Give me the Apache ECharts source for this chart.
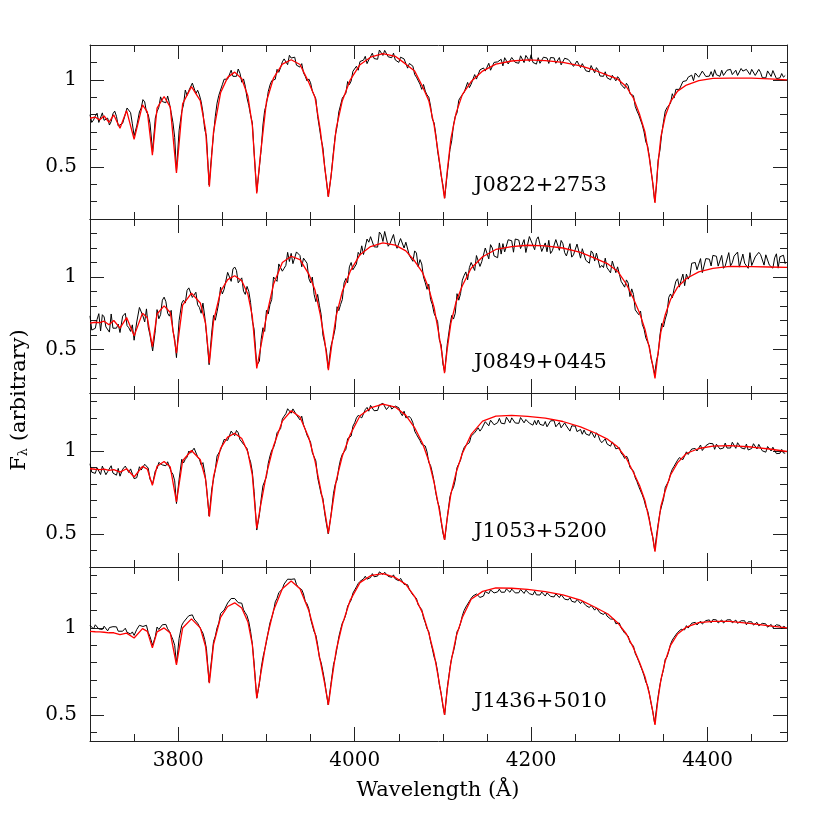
<!DOCTYPE html>
<html><head><meta charset="utf-8">
<script src="https://cdn.jsdelivr.net/npm/echarts@6/dist/echarts.min.js"></script>
<style>html,body{margin:0;padding:0;background:#fff}#c{width:830px;height:830px}</style>
</head><body><div id="c"></div>
<script>
// ---------------- data ----------------
const xMin = 3700, xMax = 4490;
const xMajorTicks = [3800, 4000, 4200, 4400];
const xMinorTicks = [3750, 3800, 3850, 3900, 3950, 4000, 4050, 4100, 4150, 4200, 4250, 4300, 4350, 4400, 4450];
const yMajorTicks = [0.5, 1];
const panelNames = ['J0822+2753', 'J0849+0445', 'J1053+5200', 'J1436+5010'];
const yMins = [0.2, 0.2, 0.3, 0.35];
const yMaxs = [1.2, 1.4, 1.35, 1.35];
const yMinorTicks = [
  [0.3, 0.4, 0.5, 0.6, 0.7, 0.8, 0.9, 1.0, 1.1],
  [0.3, 0.4, 0.5, 0.6, 0.7, 0.8, 0.9, 1.0, 1.1, 1.2, 1.3],
  [0.4, 0.5, 0.6, 0.7, 0.8, 0.9, 1.0, 1.1, 1.2, 1.3],
  [0.4, 0.5, 0.6, 0.7, 0.8, 0.9, 1.0, 1.1, 1.2, 1.3]
];
const xTitle = 'Wavelength (Å)';

// model (red) wavelengths and fluxes
const modelWave = [3700,3706,3711,3716,3721.5,3727,3734,3741.5,3750,3759.5,
3765,3770.7,3776,3784,3791,3798,3805,3815,3825,3831,
3835.3,3840,3848,3856,3864,3872,3879,3884,3889,3893,
3900,3908,3918,3928,3938,3948,3955,3961,3966,3970.2,
3974,3979,3986,3995,4006,4018,4032,4046,4058,4068,
4077,4084,4090,4095,4099,4101.8,4105,4109,4115,4122,
4132,4145,4160,4178,4196,4216,4236,4256,4272,4287,
4298,4308,4316,4323,4329,4334,4337.5,4340.4,4343.5,4347,
4352,4358,4366,4376,4390,4406,4425,4450,4470,4490];
const model1 = [.779,.785,.770,.792,.755,.798,.722,.823,.658,.856,
.816,.567,.837,.904,.843,.465,.862,.961,.880,.713,
.385,.701,.925,1.014,1.044,1.006,.905,.737,.347,.56,
.875,1.01,1.09,1.115,1.088,.985,.90,.712,.50,.327,
.48,.72,.88,1.0,1.087,1.13,1.15,1.135,1.09,1.05,
.96,.88,.74,.57,.42,.318,.48,.66,.81,.915,
.99,1.05,1.09,1.108,1.115,1.11,1.10,1.08,1.055,1.025,
1.005,.96,.894,.80,.70,.55,.42,.292,.50,.67,
.79,.875,.935,.97,.995,1.008,1.01,1.01,1.005,1.0];
const model2 = [.682,.688,.686,.695,.670,.700,.647,.720,.594,.751,
.719,.520,.745,.801,.755,.474,.806,.889,.821,.681,
.405,.695,.900,.982,1.009,.974,.881,.728,.370,.500,
.730,.950,1.100,1.143,1.120,1.020,.910,.740,.560,.358,
.530,.730,.900,1.040,1.154,1.210,1.235,1.220,1.180,1.110,
1.030,.920,.790,.620,.470,.336,.510,.680,.830,.940,
1.060,1.140,1.190,1.210,1.219,1.215,1.200,1.170,1.130,1.090,
1.040,.950,.850,.750,.640,.510,.400,.301,.460,.620,
.740,.845,.930,.990,1.035,1.060,1.073,1.072,1.069,1.066];
const model3 = [.893,.890,.888,.890,.883,.888,.873,.893,.843,.907,
.891,.793,.908,.937,.903,.693,.941,1.003,.947,.831,
.603,.845,1.016,1.084,1.107,1.075,.992,.854,.533,.660,
.860,1.030,1.180,1.243,1.205,1.080,.940,.780,.640,.503,
.640,.820,.970,1.100,1.213,1.260,1.283,1.265,1.215,1.140,
1.045,.940,.810,.670,.550,.463,.600,.740,.870,.985,
1.100,1.180,1.210,1.215,1.209,1.198,1.178,1.145,1.110,1.070,
1.025,.955,.870,.790,.700,.580,.490,.393,.530,.665,
.760,.855,.930,.985,1.015,1.030,1.033,1.024,1.012,.997];
const model4 = [.980,.978,.977,.975,.972,.972,.961,.970,.942,.996,
.980,.885,.977,1.000,.970,.788,.999,1.052,1.000,.893,
.683,.904,1.061,1.123,1.144,1.114,1.034,.903,.596,.720,
.930,1.100,1.225,1.269,1.225,1.100,.970,.810,.680,.557,
.700,.870,1.020,1.160,1.260,1.300,1.312,1.290,1.250,1.180,
1.085,.970,.850,.710,.590,.500,.650,.800,.950,1.060,
1.165,1.210,1.230,1.228,1.221,1.208,1.190,1.160,1.120,1.080,
1.030,.965,.885,.800,.720,.620,.530,.442,.580,.700,
.810,.900,.965,1.005,1.030,1.038,1.038,1.024,1.012,1.000];

// observed (black) spectrum, sampled in two interleaved sets of wavelengths
const obsWave = [3700,3704,3708,3712,3716,3720,3724,3728,3732,3734,
3740,3744,3748,3750,3756,3760,3764,3768,3771,3776,
3780,3784,3788,3792,3796,3798,3804,3808,3812,3816,
3820,3824,3828,3832,3835,3840,3844,3848,3852,3856,
3860,3864,3868,3872,3876,3880,3884,3889,3892,3896,
3900,3904,3908,3912,3916,3920,3924,3928,3932,3936,
3940,3944,3948,3952,3956,3960,3964,3968,3970,3976,
3980,3984,3988,3992,3996,4000,4004,4008,4012,4016,
4020,4024,4028,4032,4036,4040,4044,4048,4052,4056,
4060,4064,4068,4072,4076,4080,4084,4088,4092,4096,
4100,4102,4108,4112,4116,4120,4124,4128,4132,4136,
4140,4144,4148,4152,4156,4160,4164,4168,4172,4176,
4180,4184,4188,4192,4196,4200,4204,4208,4212,4216,
4220,4224,4228,4232,4236,4240,4244,4248,4252,4256,
4260,4264,4268,4272,4276,4280,4284,4288,4292,4296,
4300,4304,4308,4312,4316,4320,4324,4328,4332,4336,
4340,4344,4348,4352,4356,4360,4364,4368,4372,4376,
4380,4384,4388,4392,4396,4400,4404,4408,4412,4416,
4420,4424,4428,4432,4436,4440,4444,4448,4452,4456,
4460,4464,4468,4472,4476,4480,4484,4488];
const obs1 = [.799,.769,.808,.761,.767,.780,.760,.820,.735,.727,
.801,.840,.747,.678,.815,.886,.815,.750,.587,.817,
.902,.884,.907,.811,.669,.475,.817,.941,.938,.981,
.921,.913,.813,.676,.395,.686,.866,.905,1.003,1.004,
1.055,1.029,1.062,.986,.963,.852,.752,.357,.50,.74,
.86,.97,.99,1.06,1.07,1.12,1.087,1.125,1.13,1.082,
1.093,1.02,1.005,.935,.89,.725,.61,.42,.33,.59,
.73,.855,.90,.99,.993,1.06,1.055,1.11,1.135,1.115,
1.153,1.125,1.171,1.14,1.178,1.125,1.153,1.105,1.13,1.12,
1.067,1.086,1.03,1.025,.945,.935,.90,.775,.685,.525,
.395,.32,.60,.74,.81,.90,.927,.985,.975,1.03,
1.013,1.066,1.05,1.095,1.06,1.105,1.105,1.08,1.124,1.097,
1.129,1.101,1.138,1.099,1.125,1.144,1.093,1.127,1.106,1.13,
1.094,1.127,1.095,1.128,1.08,1.113,1.105,1.077,1.108,1.07,
1.09,1.059,1.082,1.04,1.055,1.018,1.046,1.013,1.026,.994,
1.006,.965,.98,.92,.909,.82,.795,.70,.62,.475,
.30,.54,.69,.82,.85,.92,.945,.945,.99,.995,
1.008,.995,1.032,1.018,1.043,1.02,1.047,1.058,1.029,1.055,
1.025,1.06,1.03,1.055,1.02,1.05,1.06,1.03,1.055,1.019,
1.043,1.017,1.051,1.019,1.043,1.007,1.036,1.025];
const obs2 = [.732,.646,.707,.628,.725,.657,.745,.64,.675,.617,
.75,.65,.67,.564,.79,.731,.78,.60,.49,.775,
.74,.861,.75,.77,.57,.444,.82,.82,.925,.859,
.895,.79,.82,.61,.395,.735,.76,.93,.915,1.032,
.97,1.069,.96,.994,.88,.90,.698,.39,.42,.65,
.77,.81,1.0,.97,1.10,1.06,1.17,1.163,1.10,1.175,
1.07,1.12,.99,1.0,.83,.805,.60,.49,.37,.59,
.795,.81,.96,.96,1.10,1.06,1.17,1.215,1.155,1.24,
1.275,1.212,1.31,1.245,1.323,1.23,1.293,1.198,1.265,1.2,
1.23,1.145,1.18,1.07,1.09,.96,.95,.81,.75,.565,
.40,.346,.67,.71,.885,.885,1.01,.98,1.10,1.045,
1.15,1.105,1.20,1.125,1.20,1.14,1.235,1.23,1.175,1.258,
1.171,1.263,1.196,1.258,1.169,1.249,1.188,1.277,1.176,1.235,
1.253,1.181,1.258,1.184,1.23,1.145,1.23,1.153,1.227,1.13,
1.19,1.11,1.18,1.11,1.17,1.08,1.13,1.047,1.11,1.03,
1.07,.96,.98,.865,.88,.765,.765,.64,.58,.435,
.33,.47,.68,.71,.86,.855,.97,.93,1.02,1.02,
1.01,1.09,1.05,1.127,1.043,1.12,1.076,1.161,1.075,1.149,
1.076,1.168,1.098,1.148,1.068,1.158,1.088,1.168,1.076,1.136,
1.155,1.082,1.164,1.073,1.132,1.061,1.15,1.09];
const obs3 = [.923,.871,.899,.858,.91,.875,.911,.868,.895,.848,
.909,.87,.885,.833,.905,.881,.91,.83,.803,.893,
.94,.917,.935,.875,.82,.683,.95,.95,1.0,.993,
1.005,.95,.93,.785,.608,.83,.97,1.006,1.07,1.064,
1.12,1.092,1.11,1.055,1.05,.965,.874,.523,.615,.79,
.845,.97,1.02,1.11,1.135,1.21,1.255,1.228,1.255,1.21,
1.21,1.13,1.09,.99,.94,.79,.715,.56,.50,.745,
.825,.95,.99,1.075,1.09,1.17,1.215,1.20,1.25,1.24,
1.275,1.247,1.278,1.288,1.25,1.276,1.245,1.272,1.23,1.24,
1.195,1.195,1.12,1.11,1.04,1.03,.93,.87,.745,.66,
.505,.463,.725,.78,.90,.945,1.02,1.04,1.09,1.11,
1.14,1.135,1.177,1.152,1.185,1.16,1.197,1.173,1.204,1.17,
1.195,1.168,1.202,1.17,1.194,1.157,1.184,1.187,1.155,1.178,
1.149,1.175,1.146,1.172,1.133,1.151,1.12,1.148,1.117,1.13,
1.127,1.093,1.119,1.08,1.095,1.05,1.073,1.047,1.055,1.013,
1.02,.975,.97,.90,.88,.815,.79,.705,.64,.52,
.40,.56,.67,.78,.82,.89,.90,.96,.948,.995,
.978,1.01,1.0,1.036,1.005,1.034,1.043,1.01,1.041,1.022,
1.048,1.023,1.053,1.016,1.04,1.008,1.042,1.015,1.044,1.012,
1.028,1.0,1.027,1.0,1.026,.988,1.01,.987];
const obs4 = [1.015,.994,1.018,.997,1.01,.983,1.002,1.009,.981,.981,
.998,.973,.977,.957,1.015,1.008,1.015,.95,.90,1.005,
.997,1.025,.995,.983,.90,.793,1.015,1.032,1.07,1.075,
1.04,1.028,.97,.88,.688,.922,1.0,1.083,1.102,1.143,
1.169,1.169,1.145,1.142,1.087,1.035,.908,.596,.68,.83,
.92,1.03,1.095,1.17,1.202,1.252,1.28,1.279,1.282,1.233,
1.22,1.152,1.11,1.015,.958,.83,.75,.622,.557,.79,
.885,.99,1.047,1.125,1.16,1.218,1.255,1.258,1.297,1.29,
1.312,1.296,1.322,1.307,1.316,1.291,1.305,1.279,1.285,1.25,
1.248,1.205,1.19,1.132,1.105,1.03,.978,.88,.805,.672,
.55,.50,.77,.865,.978,1.027,1.10,1.12,1.17,1.172,
1.186,1.182,1.209,1.197,1.223,1.205,1.223,1.205,1.224,1.205,
1.222,1.203,1.221,1.198,1.214,1.191,1.211,1.19,1.206,1.183,
1.201,1.179,1.196,1.174,1.19,1.162,1.174,1.148,1.164,1.14,
1.152,1.124,1.13,1.102,1.112,1.084,1.09,1.059,1.06,1.024,
1.028,.985,.973,.917,.895,.832,.798,.725,.668,.565,
.45,.608,.72,.82,.867,.93,.944,.985,.983,1.013,
1.005,1.03,1.017,1.039,1.021,1.045,1.029,1.05,1.028,1.046,
1.028,1.046,1.029,1.045,1.021,1.038,1.018,1.036,1.016,1.032,
1.008,1.023,1.004,1.02,.998,1.013,.995,1.005];

const obsWaveB = [3702,3706,3710,3714,3718,3722,3726,3730,3737,
3742,3746,3753,3758,3762,3766,3774,3778,
3782,3786,3790,3794,3801,3806,3810,3814,3818,
3822,3826,3830,3838,3842,3846,3850,3854,3858,
3862,3866,3870,3874,3878,3882,3886,3894,3898,
3902,3906,3910,3914,3918,3922,3926,3930,3934,3938,
3942,3946,3950,3954,3958,3962,3966,3973,3978,
3982,3986,3990,3994,3998,4002,4006,4010,4014,4018,
4022,4026,4030,4034,4038,4042,4046,4050,4054,4058,
4062,4066,4070,4074,4078,4082,4086,4090,4094,4098,
4105,4110,4114,4118,4122,4126,4130,4134,4138,
4142,4146,4150,4154,4158,4162,4166,4170,4174,4178,
4182,4186,4190,4194,4198,4202,4206,4210,4214,4218,
4222,4226,4230,4234,4238,4242,4246,4250,4254,4258,
4262,4266,4270,4274,4278,4282,4286,4290,4294,4298,
4302,4306,4310,4314,4318,4322,4326,4330,4334,4338,
4342,4346,4350,4354,4358,4362,4366,4370,4374,4378,
4382,4386,4390,4394,4398,4402,4406,4410,4414,4418,
4422,4426,4430,4434,4438,4442,4446,4450,4454,4458,
4462,4466,4470,4474,4478,4482,4486];
const obsB1 = [.755,.791,.755,.81,.77,.74,.805,.79,.75,
.838,.811,.735,.838,.873,.80,.78,.842,
.875,.868,.865,.755,.71,.857,.91,.942,.971,
.94,.875,.715,.58,.789,.911,.972,1.006,1.0,
1.02,1.02,1.037,1.005,.895,.797,.585,.60,.825,
.932,.995,1.003,1.043,1.103,1.121,1.141,1.123,1.084,1.073,
1.04,.993,.983,.94,.79,.658,.50,.435,.68,
.815,.895,.923,.972,1.049,1.078,1.105,1.113,1.093,1.114,
1.122,1.118,1.168,1.169,1.132,1.127,1.114,1.10,1.12,1.11,
1.094,1.078,1.015,.975,.973,.913,.85,.753,.59,.45,
.465,.65,.79,.883,.89,.933,.955,.98,1.004,
1.057,1.068,1.04,1.055,1.10,1.103,1.118,1.127,1.091,1.128,
1.10,1.095,1.135,1.14,1.105,1.10,1.09,1.095,1.13,1.125,
1.128,1.126,1.089,1.086,1.124,1.117,1.109,1.07,1.104,1.093,
1.052,1.046,1.073,1.07,1.022,1.02,1.012,1.0,1.028,1.018,
.973,.95,.965,.927,.847,.798,.74,.643,.558,.40,
.39,.595,.758,.84,.865,.895,.935,.945,.995,1.015,
1.027,1.039,1.015,1.05,1.019,1.021,1.018,1.029,1.02,1.025,
1.055,1.06,1.02,1.025,1.065,1.05,1.05,1.06,1.025,1.06,
1.012,1.011,1.045,1.053,1.007,1.011,1.015];
const obsB2 = [.634,.646,.747,.74,.656,.62,.647,.647,.73,
.665,.625,.69,.80,.69,.655,.63,.712,
.84,.83,.73,.63,.70,.84,.908,.922,.847,
.808,.75,.73,.62,.702,.825,.883,.904,1.021,
1.055,1.045,.957,.902,.935,.824,.64,.57,.625,
.745,.845,1.01,1.09,1.04,1.08,1.107,1.092,1.173,1.148,
1.13,1.095,.96,.88,.88,.74,.595,.52,.65,
.768,.845,.99,1.07,1.05,1.09,1.15,1.155,1.262,1.278,
1.208,1.206,1.293,1.314,1.212,1.217,1.23,1.192,1.268,1.24,
1.148,1.108,1.165,1.12,1.0,.915,.845,.75,.693,.533,
.54,.735,.75,.84,.978,1.035,1.065,1.113,1.148,
1.073,1.103,1.188,1.223,1.145,1.133,1.158,1.173,1.257,1.25,
1.262,1.255,1.187,1.169,1.279,1.249,1.258,1.267,1.186,1.174,
1.162,1.17,1.246,1.252,1.168,1.143,1.137,1.14,1.214,1.195,
1.115,1.095,1.165,1.165,1.065,1.065,1.064,1.029,1.10,1.07,
.97,.93,.958,.918,.773,.74,.673,.58,.523,.388,
.42,.60,.655,.75,.883,.918,.988,.978,.94,.985,
1.095,1.10,1.044,1.03,1.127,1.123,1.149,1.143,1.077,1.06,
1.067,1.077,1.144,1.172,1.08,1.095,1.06,1.079,1.139,1.17,
1.164,1.153,1.082,1.061,1.16,1.14,1.15];
const obsB3 = [.872,.865,.903,.909,.857,.87,.867,.854,.89,
.902,.892,.839,.885,.92,.897,.88,.931,
.916,.911,.928,.86,.83,.928,.963,.987,1.017,
.965,.915,.87,.77,.888,.968,1.016,1.06,1.072,
1.119,1.124,1.068,1.04,1.015,.935,.755,.71,.795,
.925,1.005,1.053,1.105,1.193,1.225,1.257,1.254,1.218,1.188,
1.158,1.095,1.053,.978,.84,.74,.625,.607,.80,
.90,.98,1.01,1.075,1.15,1.20,1.22,1.21,1.263,1.275,
1.243,1.245,1.28,1.287,1.248,1.253,1.271,1.261,1.213,1.20,
1.208,1.17,1.10,1.063,1.043,.995,.913,.815,.693,.573,
.60,.76,.825,.895,.99,1.035,1.05,1.095,1.118,
1.12,1.131,1.172,1.186,1.158,1.171,1.168,1.164,1.195,1.20,
1.169,1.167,1.201,1.19,1.168,1.156,1.158,1.161,1.154,1.146,
1.182,1.183,1.149,1.14,1.17,1.153,1.152,1.15,1.114,1.101,
1.103,1.094,1.11,1.11,1.065,1.059,1.043,1.029,1.037,1.022,
.988,.955,.95,.903,.838,.785,.735,.663,.59,.475,
.485,.628,.708,.78,.863,.908,.945,.962,.959,.979,
1.012,1.015,.993,1.003,1.032,1.046,1.044,1.041,1.012,1.018,
1.018,1.018,1.052,1.05,1.019,1.012,1.006,1.015,1.038,1.04,
1.001,.993,1.021,1.023,.984,.986,.988];
const obsB4 = [1.017,1.018,.994,.991,1.014,1.002,1.007,1.006,.981,
.975,.965,.991,1.02,.998,.974,.95,.991,
1.018,1.02,.98,.932,.94,1.033,1.058,1.074,1.051,
1.027,.988,.933,.828,.952,1.028,1.082,1.112,1.145,
1.165,1.17,1.135,1.104,1.07,.98,.798,.768,.875,
.977,1.06,1.15,1.203,1.223,1.25,1.28,1.286,1.25,1.226,
1.195,1.138,1.053,.978,.903,.80,.693,.675,.828,
.948,1.028,1.077,1.133,1.2,1.236,1.267,1.282,1.28,1.289,
1.294,1.298,1.319,1.32,1.296,1.291,1.281,1.271,1.276,1.258,
1.22,1.188,1.17,1.126,1.058,.995,.922,.833,.748,.623,
.658,.83,.912,.995,1.07,1.12,1.153,1.183,1.195,
1.175,1.183,1.21,1.218,1.201,1.207,1.205,1.205,1.222,1.223,
1.201,1.202,1.22,1.217,1.197,1.19,1.19,1.189,1.205,1.202,
1.181,1.178,1.192,1.192,1.165,1.161,1.153,1.147,1.159,1.153,
1.129,1.117,1.127,1.115,1.087,1.077,1.068,1.051,1.05,1.032,
1.0,.97,.953,.913,.853,.807,.755,.688,.623,.515,
.533,.673,.76,.833,.906,.946,.974,.992,.989,.999,
1.027,1.032,1.017,1.022,1.042,1.046,1.048,1.046,1.028,1.028,
1.046,1.047,1.024,1.026,1.041,1.041,1.035,1.035,1.013,1.012,
1.026,1.023,1.003,1.001,1.018,1.014,1.009];

const models = [model1, model2, model3, model4];
const observedA = [obs1, obs2, obs3, obs4];
const observedB = [obsB1, obsB2, obsB3, obsB4];

// ---------------- layout / style ----------------
const FONT = 'DejaVu Serif';
const AX = '#222';
const tops = [45, 219, 393, 567];
const PH = 174;

function obsSeriesData(g) {
  const pts = obsWave.map((w, i) => [w, observedA[g][i]]);
  const n = Math.min(obsWaveB.length, observedB[g].length);
  for (let i = 0; i < n; i++) pts.push([obsWaveB[i], observedB[g][i]]);
  pts.sort((a, b) => a[0] - b[0]);
  return pts;
}

const grids = [], xAxes = [], yAxes = [], series = [];
for (let g = 0; g < 4; g++) {
  grids.push({ left: 90, right: 43, top: tops[g], height: PH });
  const last = g === 3;
  const tickStyle = { color: AX, width: 1 };
  const xb = { type: 'value', gridIndex: g, min: xMin, max: xMax, splitLine: { show: false },
    axisLine: { show: false, onZero: false }, axisLabel: { show: false } };
  xAxes.push(Object.assign({}, xb, { position: 'bottom',
    axisLine: { show: true, onZero: false, lineStyle: { color: AX, width: 1 } },
    axisTick: { show: true, inside: true, length: 14, customValues: xMajorTicks, lineStyle: tickStyle },
    axisLabel: last ? { show: true, customValues: xMajorTicks, margin: 10, fontSize: 20, fontFamily: FONT, color: '#000',
      formatter: v => String(v) } : { show: false } }));
  xAxes.push(Object.assign({}, xb, { position: 'bottom',
    axisTick: { show: true, inside: true, length: 7, customValues: xMinorTicks, lineStyle: tickStyle } }));
  xAxes.push(Object.assign({}, xb, { position: 'top',
    axisLine: { show: true, onZero: false, lineStyle: { color: AX, width: 1 } },
    axisTick: { show: true, inside: true, length: 14, customValues: xMajorTicks, lineStyle: tickStyle } }));
  xAxes.push(Object.assign({}, xb, { position: 'top',
    axisTick: { show: true, inside: true, length: 7, customValues: xMinorTicks, lineStyle: tickStyle } }));

  const yb = { type: 'value', gridIndex: g, min: yMins[g], max: yMaxs[g], splitLine: { show: false },
    axisLine: { show: false, onZero: false }, axisLabel: { show: false } };
  yAxes.push(Object.assign({}, yb, { position: 'left',
    axisLine: { show: true, onZero: false, lineStyle: { color: AX, width: 1 } },
    axisTick: { show: true, inside: true, length: 14, customValues: yMajorTicks, lineStyle: tickStyle },
    axisLabel: { show: true, customValues: yMajorTicks, margin: 13, fontSize: 20, fontFamily: FONT, color: '#000',
      formatter: v => String(v) } }));
  yAxes.push(Object.assign({}, yb, { position: 'left',
    axisTick: { show: true, inside: true, length: 7, customValues: yMinorTicks[g], lineStyle: tickStyle } }));
  yAxes.push(Object.assign({}, yb, { position: 'right',
    axisLine: { show: true, onZero: false, lineStyle: { color: AX, width: 1 } },
    axisTick: { show: true, inside: true, length: 14, customValues: yMajorTicks, lineStyle: tickStyle } }));
  yAxes.push(Object.assign({}, yb, { position: 'right',
    axisTick: { show: true, inside: true, length: 7, customValues: yMinorTicks[g], lineStyle: tickStyle } }));

  series.push({ type: 'line', xAxisIndex: 4 * g, yAxisIndex: 4 * g, showSymbol: false, symbol: 'none',
    data: obsSeriesData(g), lineStyle: { color: '#000', width: 1 }, z: 2, silent: true });
  series.push({ type: 'line', xAxisIndex: 4 * g, yAxisIndex: 4 * g, showSymbol: false, symbol: 'none',
    data: modelWave.map((w, i) => [w, models[g][i]]), lineStyle: { color: '#ff0000', width: 1.3 }, z: 3, silent: true });
}

const nameY = [186, 363, 532, 702];
const graphic = panelNames.map((t, g) => ({ type: 'text', x: 474, y: nameY[g], z: 10,
  style: { text: t, fontSize: 21, fontFamily: FONT, fill: '#000', align: 'left', verticalAlign: 'middle' } }));
graphic.push({ type: 'text', x: 438, y: 791, z: 10,
  style: { text: xTitle, fontSize: 21, fontFamily: FONT, fill: '#000', align: 'center', verticalAlign: 'middle' } });
graphic.push({ type: 'text', x: 20, y: 400, rotation: Math.PI / 2, z: 10,
  style: { text: '{f|F}{s|λ}{n| (arbitrary)}', align: 'center', verticalAlign: 'middle',
    rich: { f: { fontSize: 21, fontFamily: FONT, fill: '#000' },
            s: { fontSize: 13, fontFamily: FONT, fill: '#000', verticalAlign: 'bottom', padding: [8, 0, 0, 0] },
            n: { fontSize: 21, fontFamily: FONT, fill: '#000' } } } });

const chart = echarts.init(document.getElementById('c'), null, { renderer: 'canvas' });
chart.setOption({ animation: false, backgroundColor: '#fff', grid: grids, xAxis: xAxes, yAxis: yAxes, series, graphic });
</script></body></html>
